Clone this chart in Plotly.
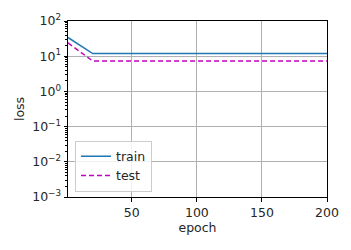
import plotly.graph_objects as go

epochs = [1, 20, 40, 60, 80, 100, 120, 140, 160, 180, 200]
train_loss = [34, 11.9, 11.9, 11.9, 11.9, 11.9, 11.9, 11.9, 11.9, 11.9, 11.9]
test_loss = [24, 7.3, 7.3, 7.3, 7.3, 7.3, 7.3, 7.3, 7.3, 7.3, 7.3]
x_ticks = [50, 100, 150, 200]
y_tickvals = [1e-3, 1e-2, 1e-1, 1, 10, 100]
y_ticktext = ["10<sup>−3</sup>", "10<sup>−2</sup>", "10<sup>−1</sup>", "10<sup>0</sup>", "10<sup>1</sup>", "10<sup>2</sup>"]
y_minor = [m * d for d in y_tickvals[:-1] for m in range(2, 10)]

fig = go.Figure()
fig.add_trace(go.Scatter(x=epochs, y=train_loss, mode="lines", name="train",
                         line=dict(color="#1f77b4", width=1.5)))
fig.add_trace(go.Scatter(x=epochs, y=test_loss, mode="lines", name="test",
                         line=dict(color="#bf00bf", width=1.5, dash="5px,3px")))
# invisible trace to activate the minor-tick overlay axis
fig.add_trace(go.Scatter(x=[epochs[0]], y=[train_loss[0]], yaxis="y2", mode="lines",
                         showlegend=False, hoverinfo="skip", line=dict(width=0)))

axis_common = dict(showline=True, linecolor="black", linewidth=1, mirror=True,
                   ticks="outside", ticklen=3.5, tickcolor="black",
                   showgrid=True, gridcolor="#b0b0b0", gridwidth=0.8,
                   zeroline=False, tickfont=dict(size=12.5, color="#262626"))

fig.update_layout(
    width=351, height=250,
    margin=dict(l=68, r=22, t=15, b=53),
    plot_bgcolor="white", paper_bgcolor="white",
    font=dict(family="DejaVu Sans", size=12.5, color="#262626"),
    xaxis=dict(range=[1, 200], tickvals=x_ticks,
               title=dict(text="epoch", font=dict(size=12.5), standoff=3), **axis_common),
    yaxis=dict(type="log", range=[-3, 2], tickvals=y_tickvals, ticktext=y_ticktext,
               title=dict(text="loss", font=dict(size=12.5), standoff=4),
               **axis_common),
    yaxis2=dict(type="log", range=[-3, 2], overlaying="y", side="left",
                tickvals=y_minor, ticktext=[""] * len(y_minor), ticks="outside",
                ticklen=2, tickwidth=0.8, tickcolor="black", showgrid=False,
                showline=False, zeroline=False, showticklabels=False),
    legend=dict(x=0.027, y=0.03, xanchor="left", yanchor="bottom",
                bgcolor="rgba(255,255,255,0.8)", bordercolor="#cccccc", borderwidth=1,
                font=dict(size=12.5), tracegroupgap=0, itemwidth=30),
    showlegend=True,
)

fig.write_html("out.html")
